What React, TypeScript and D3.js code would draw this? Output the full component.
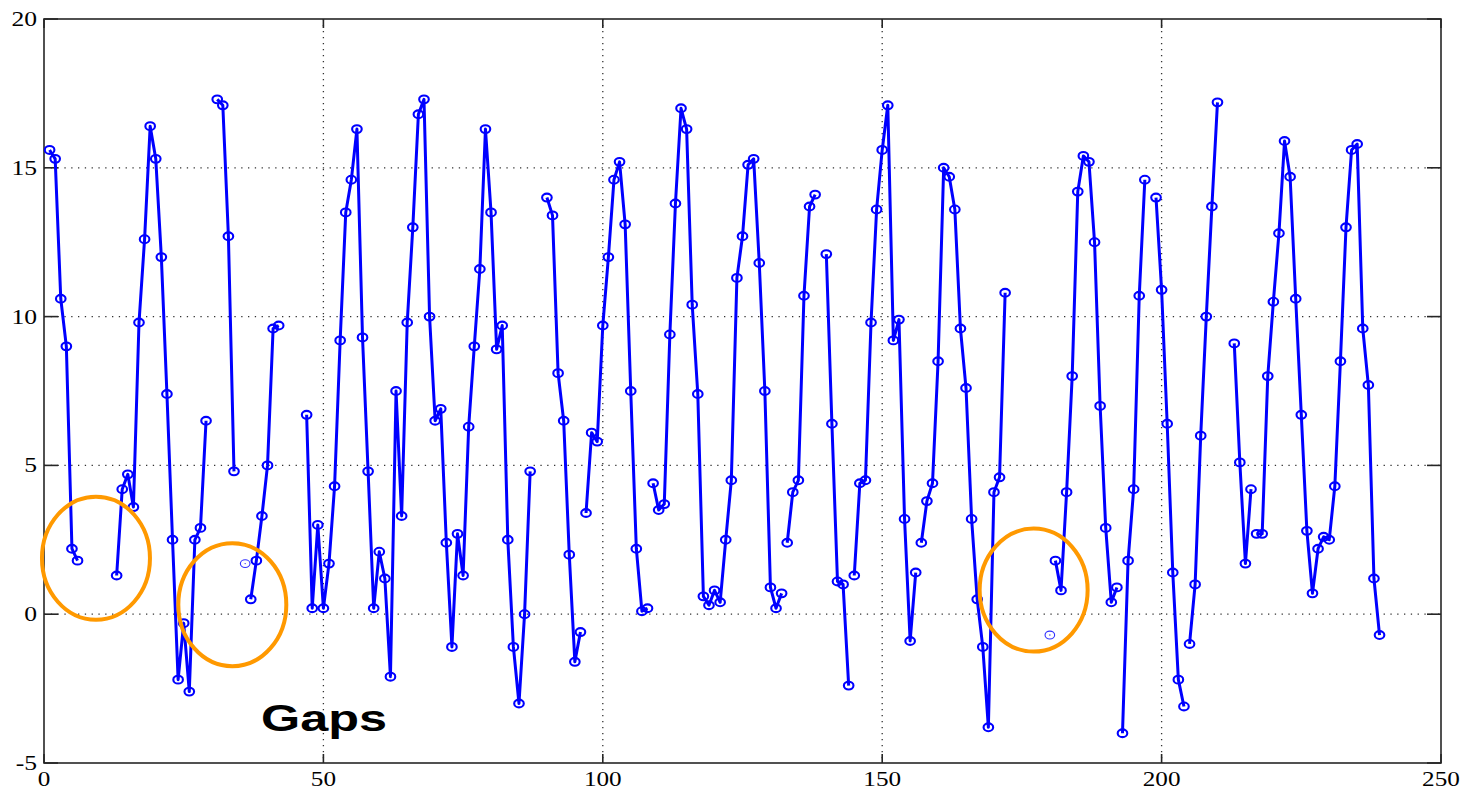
import React from "react";
import * as d3 from "d3";

// ---- data (sample index -> value), each run is a connected segment ----
const segStarts = [1, 13, 31, 37, 47, 90, 97, 109, 133, 140, 145, 157, 181, 193, 199, 205, 213, 217];
const segValues: number[][] = [
  [15.6, 15.3, 10.6, 9.0, 2.2, 1.8],
  [1.3, 4.2, 4.7, 3.6, 9.8, 12.6, 16.4, 15.3, 12.0, 7.4, 2.5, -2.2, -0.3, -2.6, 2.5, 2.9, 6.5],
  [17.3, 17.1, 12.7, 4.8],
  [0.5, 1.8, 3.3, 5.0, 9.6, 9.7],
  [6.7, 0.2, 3.0, 0.2, 1.7, 4.3, 9.2, 13.5, 14.6, 16.3, 9.3, 4.8, 0.2, 2.1, 1.2, -2.1, 7.5, 3.3, 9.8, 13.0,
   16.8, 17.3, 10.0, 6.5, 6.9, 2.4, -1.1, 2.7, 1.3, 6.3, 9.0, 11.6, 16.3, 13.5, 8.9, 9.7, 2.5, -1.1, -3.0, 0.0, 4.8],
  [14.0, 13.4, 8.1, 6.5, 2.0, -1.6, -0.6],
  [3.4, 6.1, 5.8, 9.7, 12.0, 14.6, 15.2, 13.1, 7.5, 2.2, 0.1, 0.2],
  [4.4, 3.5, 3.7, 9.4, 13.8, 17.0, 16.3, 10.4, 7.4, 0.6, 0.3, 0.8, 0.4, 2.5, 4.5, 11.3, 12.7, 15.1, 15.3, 11.8,
   7.5, 0.9, 0.2, 0.7],
  [2.4, 4.1, 4.5, 10.7, 13.7, 14.1],
  [12.1, 6.4, 1.1, 1.0, -2.4],
  [1.3, 4.4, 4.5, 9.8, 13.6, 15.6, 17.1, 9.2, 9.9, 3.2, -0.9, 1.4],
  [2.4, 3.8, 4.4, 8.5, 15.0, 14.7, 13.6, 9.6, 7.6, 3.2, 0.5, -1.1, -3.8, 4.1, 4.6, 10.8],
  [1.8, 0.8, 4.1, 8.0, 14.2, 15.4, 15.2, 12.5, 7.0, 2.9, 0.4, 0.9],
  [-4.0, 1.8, 4.2, 10.7, 14.6],
  [14.0, 10.9, 6.4, 1.4, -2.2, -3.1],
  [-1.0, 1.0, 6.0, 10.0, 13.7, 17.2],
  [9.1, 5.1, 1.7, 4.2],
  [2.7, 2.7, 8.0, 10.5, 12.8, 15.9, 14.7, 10.6, 6.7, 2.8, 0.7, 2.2, 2.6, 2.5, 4.3, 8.5, 13.0, 15.6, 15.8, 9.6,
   7.7, 1.2, -0.7],
];
const isolatedX = [36, 180];
const isolatedY = [1.7, -0.7];

const xTicks = [0, 50, 100, 150, 200, 250];
const yTicks = [-5, 0, 5, 10, 15, 20];

// annotation ellipses (centres in data units)
const gapCx = [9.3, 33.7, 177.1];
const gapCy = [1.88, 0.32, 0.81];
const gapLabel = "Gaps";

const W = 1472;
const H = 791;
const L = 44, R = 1441, T = 19, B = 763;

export default function App() {
  const x = d3.scaleLinear().domain([0, 250]).range([L, R]);
  const y = d3.scaleLinear().domain([-5, 20]).range([B, T]);
  const line = d3
    .line<[number, number]>()
    .x((d) => x(d[0]))
    .y((d) => y(d[1]));

  const segments = segValues.map((vals, i) =>
    vals.map((v, j) => [segStarts[i] + j, v] as [number, number])
  );

  const labelFont = "'Liberation Serif', 'Times New Roman', serif";
  const axisColor = "#262626";

  return (
    <svg
      width={W}
      height={H}
      style={{ position: "absolute", left: 0, top: 0, background: "#fff" }}
    >
      <rect x={0} y={0} width={W} height={H} fill="#fff" />
      {/* grid */}
      {xTicks.slice(1, -1).map((t) => (
        <line key={"gx" + t} x1={x(t)} x2={x(t)} y1={T} y2={B}
          stroke="#333" strokeWidth={1.3} strokeDasharray="1.3,4.7" />
      ))}
      {yTicks.slice(1, -1).map((t) => (
        <line key={"gy" + t} x1={L} x2={R} y1={y(t)} y2={y(t)}
          stroke="#333" strokeWidth={1.3} strokeDasharray="1.3,5.5" />
      ))}
      {/* box */}
      <rect x={L} y={T} width={R - L} height={B - T} fill="none" stroke={axisColor} strokeWidth={1.6} />
      {/* ticks */}
      {xTicks.map((t) => (
        <g key={"tx" + t}>
          <line x1={x(t)} x2={x(t)} y1={B} y2={B - 9} stroke={axisColor} strokeWidth={1.6} />
          <line x1={x(t)} x2={x(t)} y1={T} y2={T + 9} stroke={axisColor} strokeWidth={1.6} />
          <g transform={`translate(${x(t)},${786}) scale(1.2,1)`}>
            <text textAnchor="middle" fontFamily={labelFont} fontSize={21} fill="#000">{t}</text>
          </g>
        </g>
      ))}
      {yTicks.map((t) => (
        <g key={"ty" + t}>
          <line x1={L} x2={L + 14} y1={y(t)} y2={y(t)} stroke={axisColor} strokeWidth={1.6} />
          <line x1={R} x2={R - 14} y1={y(t)} y2={y(t)} stroke={axisColor} strokeWidth={1.6} />
          <g transform={`translate(${37},${y(t) + 7}) scale(1.22,1)`}>
            <text textAnchor="end" fontFamily={labelFont} fontSize={21} fill="#000">{t}</text>
          </g>
        </g>
      ))}
      {/* data lines */}
      {segments.map((seg, i) => (
        <path key={"s" + i} d={line(seg) || ""} fill="none" stroke="#0000ff"
          strokeWidth={3} strokeLinejoin="round" />
      ))}
      {segments.map((seg, i) =>
        seg.map((d, j) => (
          <ellipse key={`m${i}-${j}`} cx={x(d[0])} cy={y(d[1])} rx={4.8} ry={3.9}
            fill="none" stroke="#0000ff" strokeWidth={2.1} />
        ))
      )}
      {isolatedX.map((xv, i) => (
        <g key={"iso" + i}>
          <ellipse cx={x(xv)} cy={y(isolatedY[i])} rx={4.8} ry={3.9}
            fill="none" stroke="#3030ff" strokeWidth={1.1} />
          <circle cx={x(xv)} cy={y(isolatedY[i])} r={0.7} fill="#3030ff" />
        </g>
      ))}
      {/* annotations */}
      {gapCx.map((cx, i) => (
        <ellipse key={"g" + i} cx={x(cx)} cy={y(gapCy[i])} rx={54} ry={61.5}
          fill="none" stroke="#ff9900" strokeWidth={4} />
      ))}
      <text x={261} y={731} fontFamily="'Liberation Sans', Arial, sans-serif" fontWeight="bold"
        fontSize={37} textLength={126} lengthAdjust="spacingAndGlyphs" fill="#000">
        {gapLabel}
      </text>
    </svg>
  );
}
